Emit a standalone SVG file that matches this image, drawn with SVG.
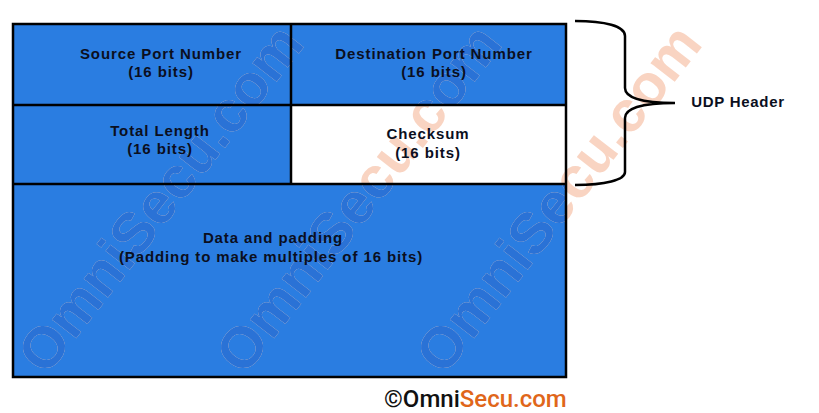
<svg xmlns="http://www.w3.org/2000/svg" width="819" height="413" viewBox="0 0 819 413">
<style>
.lbl{font-family:"Liberation Sans",Arial,sans-serif;font-weight:bold;font-size:15px;letter-spacing:0.9px;fill:#0b0f1e;text-anchor:middle}
.wm{font-family:"Liberation Sans",Arial,sans-serif;font-weight:bold;font-size:58px}
.ln{stroke:#000;stroke-width:2.5;fill:none}
</style>
<defs>
<clipPath id="blue">
<rect x="13" y="24" width="553" height="81"/>
<rect x="13" y="105" width="278" height="79"/>
<rect x="13" y="184" width="553" height="193"/>
</clipPath>
<g id="wmset">
<text class="wm" transform="translate(46,377) rotate(-52)">OmniSecu.com</text>
<text class="wm" transform="translate(244,377) rotate(-52)">OmniSecu.com</text>
<text class="wm" transform="translate(444,377) rotate(-52)">OmniSecu.com</text>
</g>
</defs>
<rect width="819" height="413" fill="#fff"/>
<g id="source-port">
<rect x="13" y="24" width="278" height="81" fill="#2a7de1"/>
</g>
<g id="destination-port">
<rect x="291" y="24" width="275" height="81" fill="#2a7de1"/>
</g>
<g id="total-length">
<rect x="13" y="105" width="278" height="79" fill="#2a7de1"/>
</g>
<g id="checksum">
<rect x="291" y="105" width="275" height="79" fill="#fff"/>
</g>
<g id="data">
<rect x="13" y="184" width="553" height="193" fill="#2a7de1"/>
</g>
<g id="watermarks">
<use href="#wmset" fill="#f9d4c2"/>
<use href="#wmset" fill="#2a72d6" clip-path="url(#blue)"/>
</g>
<g id="labels">
<text class="lbl" x="161" y="59">Source Port Number</text>
<text class="lbl" x="161" y="77">(16 bits)</text>
<text class="lbl" x="434" y="59">Destination Port Number</text>
<text class="lbl" x="434" y="77">(16 bits)</text>
<text class="lbl" x="160" y="136">Total Length</text>
<text class="lbl" x="160" y="154">(16 bits)</text>
<text class="lbl" x="428" y="139">Checksum</text>
<text class="lbl" x="428" y="158">(16 bits)</text>
<text class="lbl" x="273" y="243">Data and padding</text>
<text class="lbl" x="271" y="262">(Padding to make multiples of 16 bits)</text>
</g>
<g id="connectors">
<rect class="ln" x="13" y="24" width="553" height="353"/>
<line class="ln" x1="13" y1="105" x2="566" y2="105"/>
<line class="ln" x1="13" y1="184" x2="566" y2="184"/>
<line class="ln" x1="291" y1="24" x2="291" y2="184"/>
<path class="ln" d="M575,21 C605,21 625,26 625,36 L625,88 C625,97 640,103 675,103 C640,103 625,109 625,118 L625,172 C625,180 605,185 575,185"/>
</g>
<g id="udp-header">
<text class="lbl" x="738" y="107" style="letter-spacing:0.7px">UDP Header</text>
</g>
<g id="copyright">
<text x="384" y="407" style="font-family:Roboto,'Liberation Sans',sans-serif;font-weight:500;font-size:24px"><tspan fill="#111">©Omni</tspan><tspan fill="#e0661a">Secu.com</tspan></text>
</g>
</svg>
